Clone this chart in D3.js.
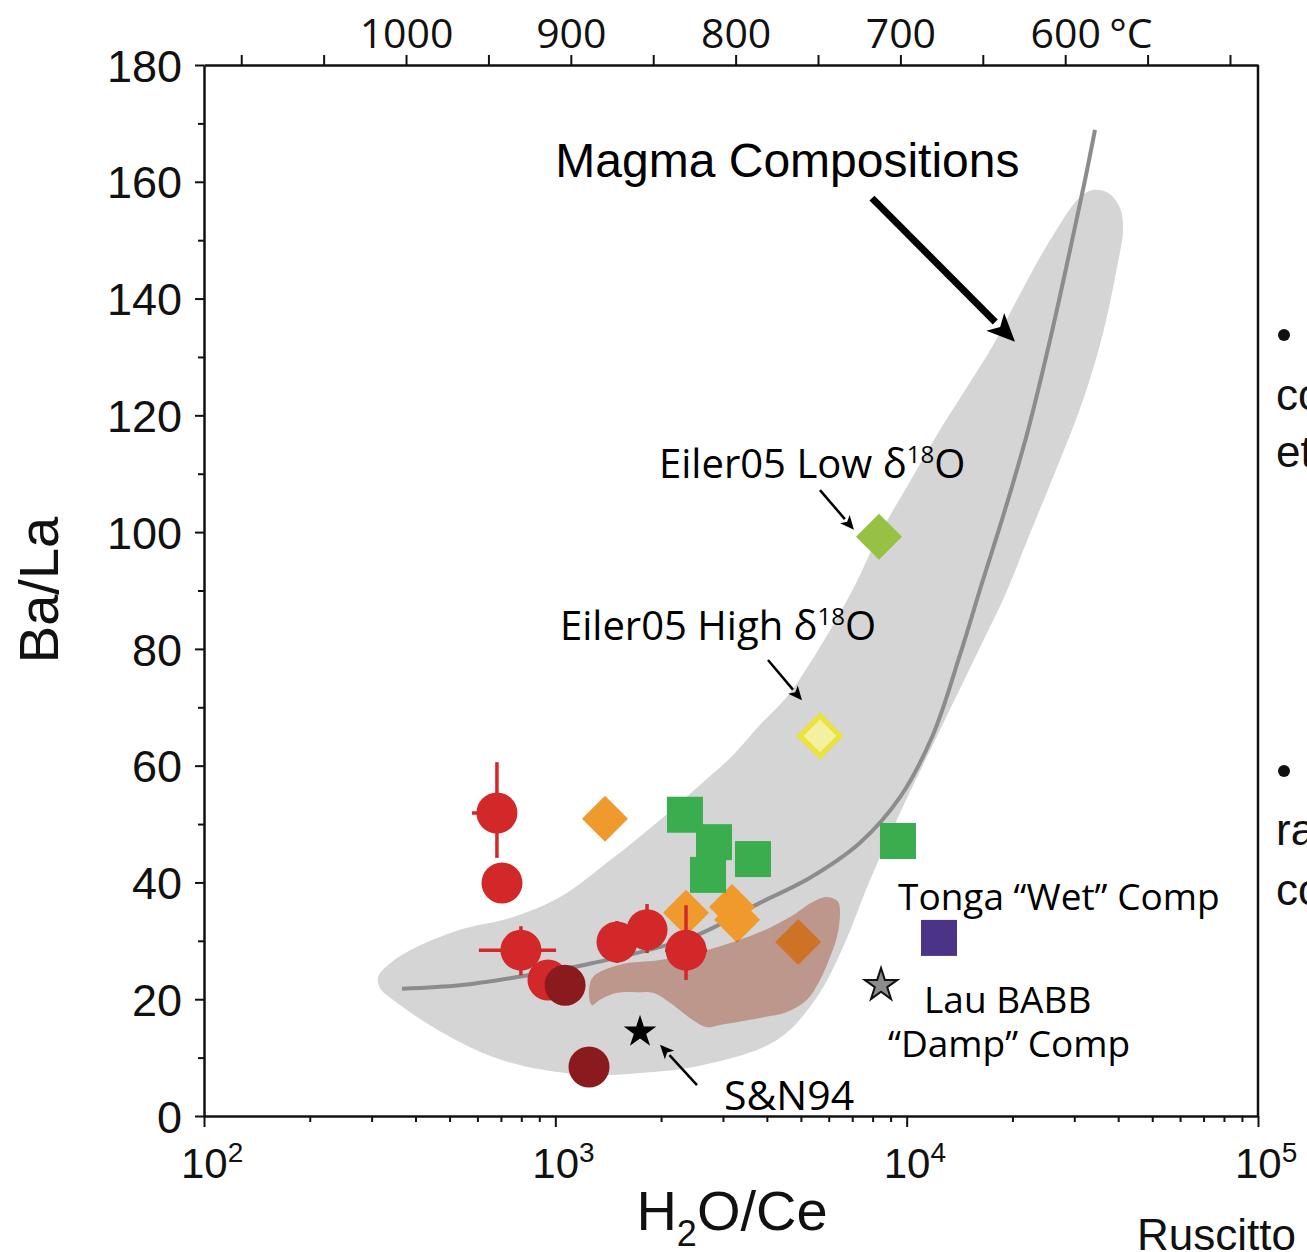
<!DOCTYPE html>
<html>
<head>
<meta charset="utf-8">
<script src="https://cdn.jsdelivr.net/npm/d3@7"></script>
<style>
  body { margin: 0; background: #fff; }
  .axis path, .axis line { stroke: #111; }
  .sans { font-family: "Liberation Sans", Arial, sans-serif; }
  .myr { font-family: "Open Sans", "DejaVu Sans", sans-serif; }
</style>
</head>
<body>
<div id="chart"></div>
<script>
// Data (H2O/Ce, Ba/La)
const redCircles = [
  { x: 682, y: 51.9, xLo: 579, xHi: 778, yLo: 44.2, yHi: 60.6 },
  { x: 705, y: 39.9 },
  { x: 798, y: 28.4, xLo: 606, xHi: 1005, yLo: 24.1, yHi: 32.5 },
  { x: 953, y: 23.3 },
  { x: 1498, y: 29.8, yLo: 26.2, yHi: 33.4 },
  { x: 1824, y: 31.9, yLo: 27.9, yHi: 36.3 },
  { x: 2355, y: 28.4, xLo: 2052, xHi: 2704, yLo: 23.3, yHi: 36.1 },
]
const darkRedCircles = [
  { x: 1066, y: 22.4 },
  { x: 1247, y: 8.4 },
]
const orangeDiamonds = [
  { x: 1385, y: 50.9 },
  { x: 2355, y: 34.8 },
  { x: 3184, y: 35.8 },
  { x: 3290, y: 33.6 },
  { x: 4909, y: 29.8 },
]
const greenSquares = [
  { x: 2339, y: 51.6 },
  { x: 2829, y: 46.9 },
  { x: 2720, y: 41.3 },
  { x: 3652, y: 44.0 },
  { x: 9446, y: 47.1 },
]
const tongaWet = [{ x: 12360, y: 30.5 }]
const lauBABB = [{ x: 8453, y: 22.4 }]
const sn94 = [{ x: 1742, y: 14.4 }]
const eilerLow = [{ x: 8340, y: 99.2 }]
const eilerHigh = [{ x: 5666, y: 65.1 }]

// magma composition trend and envelope
const magmaCurve = [
  [366, 21.8], [535, 22.4], [743, 23.6], [1280, 26.2], [2465, 30.7],
  [3823, 36.5], [5308, 40.8], [7367, 46.8], [9573, 54.6], [11885, 65.3],
  [14185, 79.0], [16390, 91.3], [19050, 103.8], [22160, 117.5],
  [25590, 132.9], [29170, 148.3], [32180, 160.3], [34360, 168.9],
]
const magmaField = [
  [313, 23.8], [343, 26.4], [386, 28.4], [535, 31.9], [743, 33.9],
  [1031, 37.5], [1431, 43.8], [1986, 50.7], [2581, 56.7], [3204, 61.8],
  [3823, 67.0], [4564, 71.8], [5308, 77.6], [6171, 84.1], [7129, 90.9],
  [8287, 99.2], [9892, 107.2], [12440, 117.5], [14660, 124.3], [17610, 132.0],
  [20610, 139.8], [25590, 150.0], [31150, 157.4], [33920, 158.6], [37420, 158.1],
  [40480, 155.5], [41290, 151.7], [39700, 145.4], [36220, 134.1], [31760, 122.6],
  [26790, 111.1], [22450, 99.8], [19050, 89.2], [16180, 80.3], [12440, 66.1],
  [9573, 51.9], [7864, 40.4], [6589, 28.9], [5557, 20.4], [4274, 13.0],
  [2581, 8.6], [1776, 7.4], [1280, 7.0], [922, 7.9],
  [665, 10.1], [479, 14.2], [345, 19.9], [317, 21.9],
]
const brownField = [
  [1247, 20.7], [1280, 23.8], [1528, 25.9], [1986, 26.7], [2702, 28.4],
  [3823, 31.5], [4748, 34.4], [5412, 36.7], [5933, 37.5], [6376, 36.7],
  [6460, 34.8], [6334, 30.7], [6050, 27.2], [5666, 23.3], [5204, 19.9],
  [4564, 17.8], [3823, 16.8], [2943, 15.6], [2702, 15.2], [2465, 16.4],
  [2121, 19.4], [1897, 21.1], [1708, 21.2], [1498, 21.1], [1340, 19.9],
  [1272, 19.0],
]

// axes
const yMajor = d3.range(0, 181, 20)
const yMinor = d3.range(10, 180, 20)
const xDecades = [1e2, 1e3, 1e4, 1e5]
const tempTicks = d3.range(500, 1101, 50)
const tempLabels = [1000, 900, 800, 700, 600]

// annotations: text start / baseline in data units
const notes = [
  { text: "Tonga \u201CWet\u201D Comp", x: 9448, y: 35.3 },
  { text: "Lau BABB", x: 11205, y: 17.6 },
  { text: "\u201CDamp\u201D Comp", x: 8850, y: 10.1 },
  { text: "S&N94", x: 3020, y: 1.0, size: 41 },
]
const arrows = [
  { from: [7965, 157.2], to: [20340, 132.6], w: 7, head: 28 },
  { from: [5666, 107.2], to: [7080, 100.4], w: 2.5, head: 14 },
  { from: [4030, 78.1], to: [5036, 71.2], w: 2.5, head: 14 },
  { from: [2531, 5.3], to: [1986, 12.2], w: 2.5, head: 14 },
]

// Dimensions
const dimensions = {
  width: 1307,
  height: 1252,
  left: 204,
  top: 65,
  right: 49,
  bottom: 136,
}
dimensions.ctrWidth = dimensions.width - dimensions.left - dimensions.right
dimensions.ctrHeight = dimensions.height - dimensions.top - dimensions.bottom

const svg = d3.select('#chart')
  .append('svg')
  .attr('width', dimensions.width)
  .attr('height', dimensions.height)

const ctr = svg.append('g')
  .attr('transform', `translate(${dimensions.left}, ${dimensions.top})`)

// Scales
const xScale = d3.scaleLog()
  .domain([1e2, 1e5])
  .range([0, dimensions.ctrWidth])
const yScale = d3.scaleLinear()
  .domain([0, 180])
  .range([dimensions.ctrHeight, 0])
const tScale = d3.scaleLinear()
  .domain([1122.6, 483])
  .range([0, dimensions.ctrWidth])

const px = d => xScale(d[0])
const py = d => yScale(d[1])

// fields
ctr.append('path')
  .datum(magmaField)
  .attr('d', d3.line().x(px).y(py).curve(d3.curveCatmullRomClosed))
  .attr('fill', '#d5d5d5')

ctr.append('path')
  .datum(magmaCurve)
  .attr('d', d3.line().x(px).y(py).curve(d3.curveCatmullRom))
  .attr('fill', 'none')
  .attr('stroke', '#8c8c8c')
  .attr('stroke-width', 4)

const diamond = h => `M0,${-h}L${h},0L0,${h}L${-h},0Z`

ctr.selectAll('.orange')
  .data(orangeDiamonds)
  .join('path')
  .attr('transform', d => `translate(${xScale(d.x)},${yScale(d.y)})`)
  .attr('d', diamond(23))
  .attr('fill', '#f0992c')

ctr.append('path')
  .datum(brownField)
  .attr('d', d3.line().x(px).y(py).curve(d3.curveCatmullRomClosed))
  .attr('fill', '#9a3a1e')
  .attr('fill-opacity', 0.4)

// error bars
const bars = ctr.append('g').attr('stroke', '#d2282a').attr('stroke-width', 3.5)
redCircles.filter(d => d.yLo).forEach(d => {
  bars.append('line')
    .attr('x1', xScale(d.x)).attr('x2', xScale(d.x))
    .attr('y1', yScale(d.yLo)).attr('y2', yScale(d.yHi))
})
redCircles.filter(d => d.xLo).forEach(d => {
  bars.append('line')
    .attr('x1', xScale(d.xLo)).attr('x2', xScale(d.xHi))
    .attr('y1', yScale(d.y)).attr('y2', yScale(d.y))
})

ctr.selectAll('.red')
  .data(redCircles)
  .join('circle')
  .attr('cx', d => xScale(d.x))
  .attr('cy', d => yScale(d.y))
  .attr('r', 20.5)
  .attr('fill', '#d2282a')

ctr.selectAll('.darkred')
  .data(darkRedCircles)
  .join('circle')
  .attr('cx', d => xScale(d.x))
  .attr('cy', d => yScale(d.y))
  .attr('r', 20.5)
  .attr('fill', '#8b1a1f')

ctr.selectAll('.green')
  .data(greenSquares)
  .join('rect')
  .attr('x', d => xScale(d.x) - 18)
  .attr('y', d => yScale(d.y) - 18)
  .attr('width', 36)
  .attr('height', 36)
  .attr('fill', '#3aad4f')

ctr.selectAll('.tonga')
  .data(tongaWet)
  .join('rect')
  .attr('x', d => xScale(d.x) - 18)
  .attr('y', d => yScale(d.y) - 18)
  .attr('width', 36)
  .attr('height', 36)
  .attr('fill', '#4b3388')

const star = d3.symbol().type(d3.symbolStar).size(330)

ctr.selectAll('.lau')
  .data(lauBABB)
  .join('path')
  .attr('transform', d => `translate(${xScale(d.x)},${yScale(d.y)})`)
  .attr('d', star)
  .attr('fill', '#8c8c8c')
  .attr('stroke', '#111')
  .attr('stroke-width', 2)

ctr.selectAll('.sn')
  .data(sn94)
  .join('path')
  .attr('transform', d => `translate(${xScale(d.x)},${yScale(d.y)})`)
  .attr('d', star)
  .attr('fill', '#000')

ctr.selectAll('.elow')
  .data(eilerLow)
  .join('path')
  .attr('transform', d => `translate(${xScale(d.x)},${yScale(d.y)})`)
  .attr('d', diamond(23))
  .attr('fill', '#96c243')

ctr.selectAll('.ehigh')
  .data(eilerHigh)
  .join('path')
  .attr('transform', d => `translate(${xScale(d.x)},${yScale(d.y)})`)
  .attr('d', diamond(20))
  .attr('fill', '#f4f0a2')
  .attr('stroke', '#ece33a')
  .attr('stroke-width', 5)

// arrows
arrows.forEach(a => {
  const x1 = xScale(a.from[0]), y1 = yScale(a.from[1])
  const x2 = xScale(a.to[0]), y2 = yScale(a.to[1])
  const ang = Math.atan2(y2 - y1, x2 - x1)
  const h = a.head
  const bx = x2 - h * Math.cos(ang), by = y2 - h * Math.sin(ang)
  ctr.append('line')
    .attr('x1', x1).attr('y1', y1).attr('x2', bx).attr('y2', by)
    .attr('stroke', '#000').attr('stroke-width', a.w)
  const wHalf = h * 0.45
  const nx = -Math.sin(ang), ny = Math.cos(ang)
  ctr.append('path')
    .attr('d', `M${x2},${y2}L${bx + nx * wHalf},${by + ny * wHalf}L${bx + h * 0.25 * Math.cos(ang)},${by + h * 0.25 * Math.sin(ang)}L${bx - nx * wHalf},${by - ny * wHalf}Z`)
    .attr('fill', '#000')
})

// text labels
ctr.append('text')
  .attr('class', 'sans')
  .attr('x', xScale(1000))
  .attr('y', yScale(160.8))
  .attr('font-size', 48)
  .text('Magma Compositions')

const deltaLabel = (label, x, y) => {
  const t = ctr.append('text')
    .attr('class', 'myr')
    .attr('x', xScale(x))
    .attr('y', yScale(y))
    .attr('font-size', 40)
  t.append('tspan').text(label + ' \u03B4')
  t.append('tspan').attr('font-size', 24).attr('dy', -15).text('18')
  t.append('tspan').attr('dy', 15).text('O')
}
deltaLabel('Eiler05 Low', 1973, 109.3)
deltaLabel('Eiler05 High', 1031, 81.5)

ctr.selectAll('.note')
  .data(notes)
  .join('text')
  .attr('class', 'myr')
  .attr('x', d => xScale(d.x))
  .attr('y', d => yScale(d.y))
  .attr('font-size', d => d.size || 37)
  .text(d => d.text)

// Axes
const yAxisG = ctr.append('g').attr('class', 'axis sans')
  .call(d3.axisLeft(yScale).tickValues(yMajor).tickSize(9).tickSizeOuter(0).tickPadding(13))
yAxisG.selectAll('text').attr('font-size', 45).attr('fill', '#111').attr('dy', '0.36em')
yAxisG.select('.domain').attr('stroke-width', 2.5)
yAxisG.selectAll('line').attr('stroke-width', 2)

ctr.append('g').attr('class', 'axis')
  .call(d3.axisLeft(yScale).tickValues(yMinor).tickSize(6).tickFormat(''))
  .call(g => g.select('.domain').remove())
  .selectAll('line').attr('stroke-width', 2)

const xMinor = []
;[1e2, 1e3, 1e4].forEach(dec => d3.range(2, 10).forEach(k => xMinor.push(dec * k)))

const xAxisG = ctr.append('g').attr('class', 'axis sans')
  .attr('transform', `translate(0, ${dimensions.ctrHeight})`)
  .call(d3.axisBottom(xScale).tickValues(xDecades).tickSize(11).tickSizeOuter(0).tickFormat(''))
xAxisG.select('.domain').attr('stroke-width', 2.5)
xAxisG.selectAll('line').attr('stroke-width', 2)

ctr.append('g').attr('class', 'axis')
  .attr('transform', `translate(0, ${dimensions.ctrHeight})`)
  .call(d3.axisBottom(xScale).tickValues(xMinor).tickSize(6).tickFormat(''))
  .call(g => g.select('.domain').remove())
  .selectAll('line').attr('stroke-width', 2)

xDecades.forEach(v => {
  const t = ctr.append('text')
    .attr('class', 'sans')
    .attr('x', xScale(v) - 23)
    .attr('y', dimensions.ctrHeight + 62)
    .attr('font-size', 42)
    .attr('fill', '#111')
  t.append('tspan').text('10')
  t.append('tspan').attr('font-size', 28).attr('dy', -16).text(Math.log10(v))
})

const tAxisG = ctr.append('g').attr('class', 'axis myr')
  .call(d3.axisTop(tScale).tickValues(tempTicks).tickSize(10).tickSizeOuter(0)
    .tickFormat(d => tempLabels.includes(d) ? d : ''))
tAxisG.selectAll('text').attr('font-size', 41).attr('fill', '#111').attr('y', -17)
tAxisG.select('.domain').attr('stroke-width', 2.5)
tAxisG.selectAll('line').attr('stroke-width', 2)

ctr.append('text')
  .attr('class', 'myr')
  .attr('x', tScale(600) + 44)
  .attr('y', -17)
  .attr('font-size', 41)
  .attr('fill', '#111')
  .text('\u00B0C')

// right frame
ctr.append('line')
  .attr('x1', dimensions.ctrWidth).attr('x2', dimensions.ctrWidth)
  .attr('y1', 0).attr('y2', dimensions.ctrHeight)
  .attr('stroke', '#111').attr('stroke-width', 2.5)

// axis titles
const xTitle = svg.append('text')
  .attr('class', 'sans')
  .attr('x', 732)
  .attr('y', 1230)
  .attr('text-anchor', 'middle')
  .attr('font-size', 56)
  .attr('fill', '#111')
xTitle.append('tspan').text('H')
xTitle.append('tspan').attr('font-size', 36).attr('dy', 16).text('2')
xTitle.append('tspan').attr('dy', -16).text('O/Ce')

svg.append('text')
  .attr('class', 'sans')
  .attr('transform', 'translate(58, 590) rotate(-90)')
  .attr('text-anchor', 'middle')
  .attr('font-size', 56)
  .attr('fill', '#111')
  .text('Ba/La')

// neighbouring slide text, cut by the frame
const sideText = [
  { t: 'co', y: 410 }, { t: 'et', y: 467 },
  { t: 'ra', y: 845 }, { t: 'co', y: 905 },
]
svg.selectAll('.side')
  .data(sideText)
  .join('text')
  .attr('class', 'sans')
  .attr('x', 1276)
  .attr('y', d => d.y)
  .attr('font-size', 44)
  .attr('fill', '#111')
  .text(d => d.t)
svg.selectAll('.bullet')
  .data([335, 771])
  .join('circle')
  .attr('cx', 1284)
  .attr('cy', d => d)
  .attr('r', 6)
  .attr('fill', '#111')
svg.append('text')
  .attr('class', 'sans')
  .attr('x', 1137)
  .attr('y', 1250)
  .attr('font-size', 44)
  .attr('fill', '#111')
  .text('Ruscitto')
</script>
</body>
</html>
